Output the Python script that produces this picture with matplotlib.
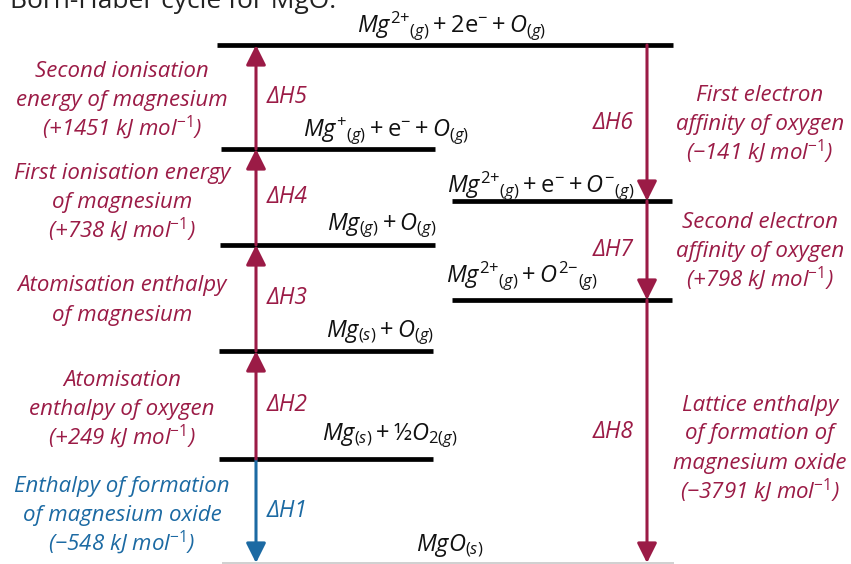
import matplotlib
matplotlib.use("Agg")
import matplotlib.pyplot as plt

plt.rcParams['font.family'] = ['Open Sans', 'DejaVu Sans']
plt.rcParams['mathtext.fontset'] = 'custom'
plt.rcParams['mathtext.rm'] = 'Open Sans'
plt.rcParams['mathtext.it'] = 'Open Sans:italic'
plt.rcParams['mathtext.bf'] = 'Open Sans:bold'

RED = '#9b1b46'
BLUE = '#1c6aa3'
TITLE = "Born-Haber cycle for MgO:"

# ---------------------------------------------------------------------------
# Data: species at each energy level, and the eight enthalpy steps
# ---------------------------------------------------------------------------
SPECIES = [
    r'$Mg^{2{+}}{}_{(g)} + 2\mathrm{e}^{{-}} + O_{(g)}$',
    r'$Mg^{{+}}{}_{(g)} + \mathrm{e}^{{-}} + O_{(g)}$',
    r'$Mg_{(g)} + O_{(g)}$',
    r'$Mg_{(s)} + O_{(g)}$',
    r'$Mg_{(s)} + \mathrm{½}O_{2(g)}$',
    r'$MgO_{(s)}$',
    r'$Mg^{2{+}}{}_{(g)} + \mathrm{e}^{{-}} + O^{{-}}{}_{(g)}$',
    r'$Mg^{2{+}}{}_{(g)} + O^{2{-}}{}_{(g)}$',
]
STEP_NAMES = ['ΔH1', 'ΔH2', 'ΔH3', 'ΔH4', 'ΔH5', 'ΔH6', 'ΔH7', 'ΔH8']
STEP_DESC = [
    ["Enthalpy of formation", "of magnesium oxide"],
    ["Atomisation", "enthalpy of oxygen"],
    ["Atomisation enthalpy", "of magnesium"],
    ["First ionisation energy", "of magnesium"],
    ["Second ionisation", "energy of magnesium"],
    ["First electron", "affinity of oxygen"],
    ["Second electron", "affinity of oxygen"],
    ["Lattice enthalpy", "of formation of", "magnesium oxide"],
]
STEP_KJ = [-548, 249, None, 738, 1451, -141, 798, -3791]
STEP_FROM = [4, 4, 3, 2, 1, 0, 6, 7]   # level index where arrow starts
STEP_TO   = [5, 3, 2, 1, 0, 6, 7, 5]   # level index where arrow ends

# ---------------------------------------------------------------------------
# Layout (schematic diagram units, y grows downward)
# ---------------------------------------------------------------------------
LEVEL_Y  = [45, 149, 245, 351, 459, 563, 201, 300]
LEVEL_X0 = [217, 221, 220, 219, 219, 222, 452, 452]
LEVEL_X1 = [673, 435, 435, 433, 433, 674, 672, 672]
SPEC_X   = [452, 386, 382, 380, 390, 450, 541, 522]
SPEC_Y   = [32, 137, 230, 337, 440, 552, 192, 282]
STEP_X   = [256, 256, 256, 256, 256, 647, 647, 647]
DESC_Y   = [513, 407, 298, 200, 98, 122, 249, 446]
LEFT_DESC_X, RIGHT_DESC_X = 122, 760
LINE_GAP = 29


def kj_text(v):
    sign = '+' if v > 0 else '\u2212'
    return f"({sign}{abs(v)} kJ mol$^{{{{-}}1}}$)"


fig = plt.figure(figsize=(8.51, 5.64), dpi=100)
ax = fig.add_axes([0, 0, 1, 1])
ax.set_xlim(0, 851)
ax.set_ylim(564, 0)
ax.axis('off')

# title (cropped at the top of the picture)
ax.text(10, 8, TITLE, fontsize=19, color='#222222', ha='left', va='baseline')

# energy levels
for i, (y, x0, x1) in enumerate(zip(LEVEL_Y, LEVEL_X0, LEVEL_X1)):
    if i == 5:
        ax.hlines(y, x0, x1, color='#c8c8c8', lw=1.2)
    else:
        ax.hlines(y, x0, x1, color='black', lw=3.4)

for lab, x, y in zip(SPECIES, SPEC_X, SPEC_Y):
    ax.text(x, y, lab, fontsize=17, color='#111111', ha='center', va='baseline')

# enthalpy arrows and labels
for k, name in enumerate(STEP_NAMES):
    col = BLUE if k == 0 else RED
    x = STEP_X[k]
    y0, y1 = LEVEL_Y[STEP_FROM[k]], LEVEL_Y[STEP_TO[k]]
    ax.annotate('', xy=(x, y1), xytext=(x, y0),
                arrowprops=dict(arrowstyle='-|>,head_length=0.6,head_width=0.3',
                                color=col, lw=2.2, shrinkA=0, shrinkB=0,
                                mutation_scale=20))
    ym = (y0 + y1) / 2
    if x < 400:
        ax.text(x + 11, ym, name, fontsize=16.5, color=col, ha='left', va='center',
                fontstyle='italic')
        dx = LEFT_DESC_X
    else:
        ax.text(x - 13, ym, name, fontsize=16.5, color=col, ha='right', va='center',
                fontstyle='italic')
        dx = RIGHT_DESC_X
    lines = list(STEP_DESC[k])
    if STEP_KJ[k] is not None:
        lines.append(kj_text(STEP_KJ[k]))
    top = DESC_Y[k] - LINE_GAP * (len(lines) - 1) / 2
    for j, line in enumerate(lines):
        ax.text(dx, top + j * LINE_GAP + 8, line, fontsize=16, color=col,
                ha='center', va='baseline', fontstyle='italic')

fig.savefig('out.png', dpi=100)
